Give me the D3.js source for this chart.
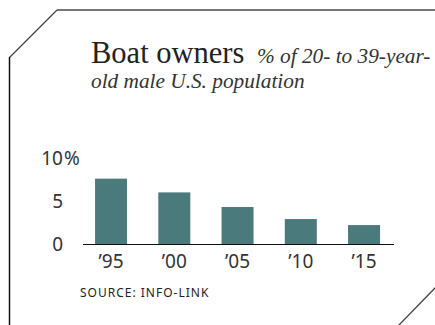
<!DOCTYPE html>
<html><head><meta charset="utf-8">
<script src="https://cdn.jsdelivr.net/npm/d3@7"></script>
<style>
html,body{margin:0;padding:0;background:#fff;}
svg{display:block;}
</style></head>
<body>
<script>
const categories = ["’95","’00","’05","’10","’15"];
const values = [7.6, 6.0, 4.3, 2.9, 2.2];
const yTicks = [0, 5, 10];
const title = "Boat owners";
const subtitle1 = "% of 20- to 39-year-";
const subtitle2 = "old male U.S. population";
const source = "SOURCE: INFO-LINK";

const W = 435, H = 325;
const svg = d3.select("body").append("svg").attr("width", W).attr("height", H);

// frame
svg.append("line").attr("x1",57).attr("y1",10).attr("x2",W).attr("y2",10)
  .attr("stroke","#777").attr("stroke-width",2);
svg.append("line").attr("x1",57).attr("y1",10).attr("x2",9.5).attr("y2",57.5)
  .attr("stroke","#444").attr("stroke-width",1.3);
svg.append("line").attr("x1",9.5).attr("y1",57).attr("x2",9.5).attr("y2",H)
  .attr("stroke","#111").attr("stroke-width",1.5);
svg.append("line").attr("x1",W+1).attr("y1",287).attr("x2",398).attr("y2",H+1)
  .attr("stroke","#444").attr("stroke-width",1.3);

// title
svg.append("text").attr("x",91).attr("y",63)
  .attr("font-family","'Liberation Serif', serif").attr("fill","#222")
  .attr("font-size",30.5).text(title);
svg.append("text").attr("x",257).attr("y",63)
  .attr("font-family","'Liberation Serif', serif").attr("font-size",21.3)
  .attr("font-style","italic").attr("fill","#333").text(subtitle1);
svg.append("text").attr("x",91).attr("y",88)
  .attr("font-family","'Liberation Serif', serif").attr("font-size",21.3)
  .attr("font-style","italic").attr("fill","#333").text(subtitle2);

// scales
const x = d3.scaleBand().domain(categories).range([63.8, 411.3]).paddingInner(0.494).paddingOuter(0.494);
const y = d3.scaleLinear().domain([0,10]).range([244,158]);

svg.selectAll("rect.bar").data(values).join("rect").attr("class","bar")
  .attr("x",(d,i)=>x(categories[i])).attr("width",x.bandwidth())
  .attr("y",d=>y(d)).attr("height",d=>y(0)-y(d)).attr("fill","#4a7a7c");

// axis line
svg.append("line").attr("x1",83).attr("x2",394).attr("y1",244.5).attr("y2",244.5)
  .attr("stroke","#111").attr("stroke-width",1.2);

// y labels
const yl = svg.append("g").attr("font-family","'Noto Sans', sans-serif").attr("font-size",19).attr("fill","#333");
yl.selectAll("text").data(yTicks).join("text")
  .attr("x",63).attr("y",d=>y(d)).attr("dy","0.35em").attr("text-anchor","end").text(d=>d);
yl.append("text").attr("x",64).attr("y",y(10)).attr("dy","0.35em").text("%");

// x labels
svg.append("g").attr("font-family","'Noto Sans', sans-serif").attr("font-size",19).attr("fill","#333")
  .selectAll("text").data(categories).join("text")
  .attr("x",d=>x(d)+x.bandwidth()/2).attr("y",268).attr("text-anchor","middle").text(d=>d);

// source
svg.append("text").attr("x",80).attr("y",297).attr("font-family","'Noto Sans', sans-serif")
  .attr("font-size",12).attr("letter-spacing",1).attr("fill","#222").text(source);
</script>
</body></html>
